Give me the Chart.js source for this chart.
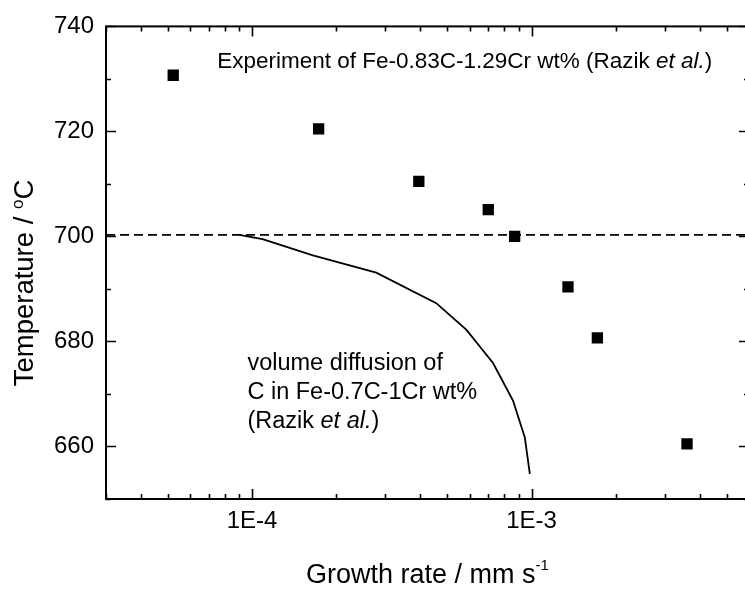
<!DOCTYPE html>
<html>
<head>
<meta charset="utf-8">
<script src="https://cdn.jsdelivr.net/npm/chart.js@4"></script>
<style>
  html, body { margin: 0; padding: 0; background: #fff; overflow: hidden; }
  canvas { display: block; }
</style>
</head>
<body>
<canvas id="chart" width="752" height="589"></canvas>
<script>
// experiment, Fe-0.83C-1.29Cr (growth rate in mm/s, temperature in °C)
const expRate = [5.22e-5, 1.73e-4, 3.95e-4, 7.0e-4, 8.7e-4, 1.35e-3, 1.72e-3, 3.6e-3];
const expTemp = [730.7, 720.5, 710.5, 705.1, 700.0, 690.4, 680.7, 660.5];

// volume diffusion of C, Fe-0.7C-1Cr
const diffRate = [9.0e-5, 1.09e-4, 1.65e-4, 2.78e-4, 4.56e-4, 5.85e-4, 7.28e-4, 8.59e-4, 9.46e-4, 9.86e-4];
const diffTemp = [700.3, 699.5, 696.4, 693.1, 687.3, 682.2, 675.9, 668.7, 661.7, 654.8];

// horizontal dashed line
const dashTemp = 700.3;

// axes
const xMin = 3e-5, xMax = 6e-3;
const yMin = 650, yMax = 740;
const xTickLabels = [1e-4, 1e-3];
const yTickLabels = [660, 680, 700, 720, 740];

const FONT = '"Liberation Sans", Arial, Helvetica, sans-serif';
Chart.defaults.font.family = FONT;
Chart.defaults.color = "#000";

const toXY = (xs, ys) => xs.map((x, i) => ({ x, y: ys[i] }));

// рамка и засечки внутрь, на всех четырёх сторонах
const frameTicks = {
  id: "frameTicks",
  afterDatasetsDraw(chart) {
    const { ctx, chartArea: a, scales } = chart;
    const sx = scales.x, sy = scales.y;
    ctx.save();
    ctx.strokeStyle = "#000";
    ctx.lineWidth = 1.6;
    for (let e = -5; e <= -3; e++) {
      for (let m = 1; m <= 9; m++) {
        const v = m * Math.pow(10, e);
        if (v < xMin || v > xMax) continue;
        const px = Math.round(sx.getPixelForValue(v)) + 0.5;
        const len = m === 1 ? 10 : 5;
        ctx.beginPath();
        ctx.moveTo(px, a.bottom); ctx.lineTo(px, a.bottom - len);
        ctx.moveTo(px, a.top); ctx.lineTo(px, a.top + len);
        ctx.stroke();
      }
    }
    for (let v = yMin; v <= yMax; v += 10) {
      const py = Math.round(sy.getPixelForValue(v)) + 0.5;
      const len = v % 20 === 0 ? 10 : 5;
      ctx.beginPath();
      ctx.moveTo(a.left, py); ctx.lineTo(a.left + len, py);
      ctx.moveTo(a.right, py); ctx.lineTo(a.right - len, py);
      ctx.stroke();
    }
    ctx.lineWidth = 2;
    ctx.strokeRect(a.left, a.top, a.right - a.left, a.bottom - a.top);
    ctx.restore();
  },
};

// подписи осей с верхними индексами и текстовые пометки
function drawRuns(ctx, runs, x, y) {
  for (const r of runs) {
    ctx.font = `${r.italic ? "italic " : ""}${r.size}px ${FONT}`;
    ctx.fillText(r.text, x, y + (r.dy || 0));
    x += ctx.measureText(r.text).width;
  }
}
function runsWidth(ctx, runs) {
  let w = 0;
  for (const r of runs) {
    ctx.font = `${r.italic ? "italic " : ""}${r.size}px ${FONT}`;
    w += ctx.measureText(r.text).width;
  }
  return w;
}

const labels = {
  id: "labels",
  afterDraw(chart) {
    const { ctx, chartArea: a, scales } = chart;
    const sx = scales.x, sy = scales.y;
    ctx.save();
    ctx.fillStyle = "#000";
    ctx.textBaseline = "alphabetic";
    ctx.textAlign = "left";

    const xTitle = [
      { text: "Growth rate / mm", size: 27 },
      { text: " s", size: 27 },
      { text: "-1", size: 15, dy: -13 },
    ];
    const wx = runsWidth(ctx, xTitle);
    drawRuns(ctx, xTitle, (a.left + a.right) / 2 - wx / 2, 583);

    const yTitle = [
      { text: "Temperature / ", size: 27.5 },
      { text: "o", size: 17, dy: -10 },
      { text: "C", size: 27.5 },
    ];
    const wy = runsWidth(ctx, yTitle);
    ctx.save();
    ctx.translate(33, 283);
    ctx.rotate(-Math.PI / 2);
    drawRuns(ctx, yTitle, -wy / 2, 0);
    ctx.restore();

    drawRuns(ctx, [
      { text: "Experiment of Fe-0.83C-1.29Cr wt% (Razik ", size: 22.5 },
      { text: "et al.", size: 22.5, italic: true },
      { text: ")", size: 22.5 },
    ], sx.getPixelForValue(7.5e-5), sy.getPixelForValue(732.0));

    const vx = sx.getPixelForValue(9.62e-5);
    const vy = sy.getPixelForValue(674.5);
    drawRuns(ctx, [{ text: "volume diffusion of", size: 23.5 }], vx, vy);
    drawRuns(ctx, [{ text: "C in Fe-0.7C-1Cr wt%", size: 23.5 }], vx, vy + 29);
    drawRuns(ctx, [
      { text: "(Razik ", size: 23.5 },
      { text: "et al.", size: 23.5, italic: true },
      { text: ")", size: 23.5 },
    ], vx, vy + 58);
    ctx.restore();
  },
};

const canvas = document.getElementById("chart");

function makeChart() {
  return new Chart(canvas, {
    type: "scatter",
    data: {
      datasets: [
        {
          label: "Experiment",
          data: toXY(expRate, expTemp),
          pointStyle: "rect",
          pointRadius: 8,
          borderWidth: 0,
          backgroundColor: "#000",
          showLine: false,
        },
        {
          label: "Volume diffusion",
          data: toXY(diffRate, diffTemp),
          showLine: true,
          pointRadius: 0,
          borderColor: "#000",
          borderWidth: 1.8,
          tension: 0,
        },
        {
          label: "Dashed",
          data: toXY([xMin, xMax], [dashTemp, dashTemp]),
          showLine: true,
          pointRadius: 0,
          borderColor: "#000",
          borderWidth: 1.6,
          borderDash: [9, 5],
        },
      ],
    },
    options: {
      responsive: false,
      animation: false,
      layout: { padding: { left: 0, top: 23, right: 3, bottom: 0 } },
      plugins: {
        legend: { display: false },
        tooltip: { enabled: false },
      },
      scales: {
        x: {
          type: "logarithmic",
          min: xMin,
          max: xMax,
          grid: { display: false, drawTicks: false },
          border: { display: false },
          afterBuildTicks: (s) => { s.ticks = xTickLabels.map((v) => ({ value: v })); },
          afterFit: (s) => { s.height = 90; },
          ticks: {
            autoSkip: false,
            maxRotation: 0,
            padding: 8,
            font: { size: 24 },
            callback: (v) => "1E" + Math.round(Math.log10(v)),
          },
        },
        y: {
          min: yMin,
          max: yMax,
          grid: { display: false, drawTicks: false },
          border: { display: false },
          afterBuildTicks: (s) => { s.ticks = yTickLabels.map((v) => ({ value: v })); },
          afterFit: (s) => { s.width = 106; },
          ticks: {
            padding: 12,
            font: { size: 24 },
          },
        },
      },
    },
    plugins: [frameTicks, labels],
  });
}

// правая ось в оригинале уходит за край картинки (x ≈ 749):
// холст шире окна, подгоняем его ширину под нужную правую границу
const targetRight = 749;
let chart = makeChart();
const delta = Math.round(targetRight - chart.chartArea.right);
if (delta !== 0) {
  chart.destroy();
  canvas.width = 752 + delta;
  canvas.height = 589;
  chart = makeChart();
}
</script>
</body>
</html>
